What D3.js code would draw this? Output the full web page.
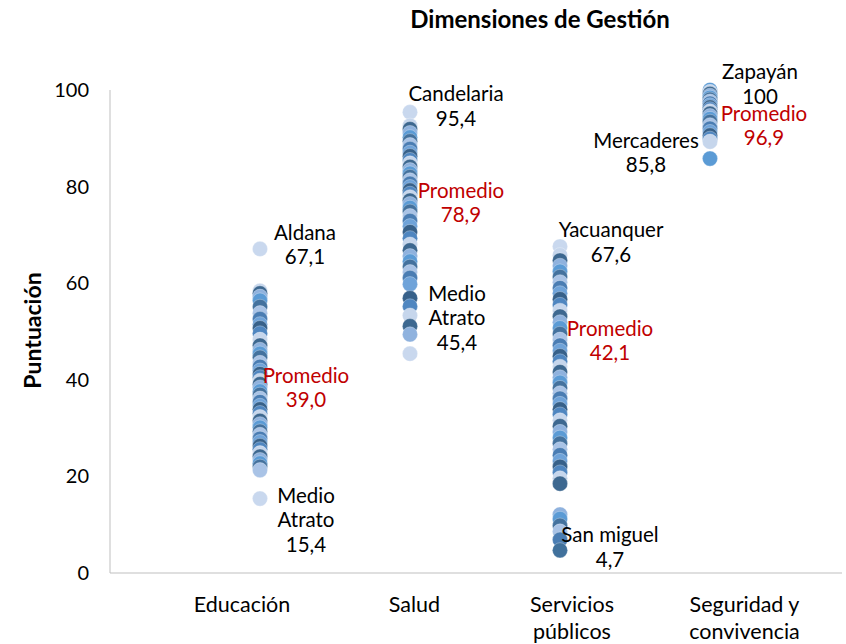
<!DOCTYPE html>
<html>
<head>
<meta charset="utf-8">
<script src="https://cdn.jsdelivr.net/npm/d3@7"></script>
<style>
  body { margin: 0; background: #fff; }
  svg text { font-family: Lato, "Open Sans", sans-serif; }
</style>
</head>
<body>
<svg id="chart" width="846" height="644"></svg>
<script>
// ---------- DATA ----------
const categories = ['Educación', 'Salud', 'Servicios públicos', 'Seguridad y convivencia'];
const categoryLines = [['Educación'], ['Salud'], ['Servicios', 'públicos'], ['Seguridad y', 'convivencia']];
const yTicks = [0, 20, 40, 60, 80, 100];

const educacion = [
  67.1, 58.4, 57.9, 57.2, 56.4, 55.1, 53.8, 52.6, 51.5, 50.7, 49.6, 48.3, 47.1, 46.2,
  45.4, 44.6, 43.5, 42.7, 41.9, 41.2, 40.5, 39.8, 39.1, 38.4, 37.6, 36.9, 36.1, 35.4,
  34.6, 33.9, 33.1, 32.3, 31.5, 30.8, 30.1, 29.3, 28.6, 27.8, 27.1, 26.3, 25.6, 24.8,
  24.1, 23.4, 22.7, 22.0, 21.3, 15.4
];
const salud = [
  95.4, 92.6, 91.9, 91.1, 90.2, 89.4, 88.6, 87.8, 87.0, 86.3, 85.5, 84.8, 84.1, 83.4,
  82.7, 82.0, 81.3, 80.6, 79.9, 79.2, 78.5, 77.8, 77.1, 76.4, 75.6, 74.8, 73.9, 72.9,
  71.8, 70.6, 69.3, 68.0, 66.8, 65.6, 64.5, 63.4, 62.3, 61.1, 59.8, 56.9, 55.2, 53.3,
  51.1, 49.4, 45.4
];
const servicios = [
  67.6, 65.8, 64.7, 63.6, 62.4, 61.3, 60.2, 59.0, 57.9, 56.7, 55.5, 54.3, 53.1, 51.9,
  50.7, 49.5, 48.3, 47.1, 46.0, 44.9, 43.8, 42.7, 41.6, 40.5, 39.4, 38.3, 37.2, 36.1,
  35.0, 33.9, 32.8, 31.6, 30.4, 29.2, 28.0, 26.8, 25.6, 24.4, 23.2, 22.0, 20.8, 19.6,
  18.5, 12.1, 11.2, 9.8, 8.6, 6.9, 4.7
];
const seguridad = [
  100, 99.6, 99.2, 98.8, 98.4, 98.0, 97.6, 97.2, 96.8, 96.4, 96.0, 95.6, 95.1, 94.6,
  94.0, 93.4, 92.7, 92.0, 91.3, 90.6, 89.9, 89.3, 85.8
];
const seriesValues = [educacion, salud, servicios, seguridad];

const promedios = [39.0, 78.9, 42.1, 96.9];

// extreme point labels: category index, value, text lines
const extremeCats = [0, 0, 1, 1, 2, 2, 3, 3];
const extremeValues = [67.1, 15.4, 95.4, 45.4, 67.6, 4.7, 100, 85.8];
const extremeNames = [['Aldana'], ['Medio', 'Atrato'], ['Candelaria'], ['Medio', 'Atrato'],
  ['Yacuanquer'], ['San miguel'], ['Zapayán'], ['Mercaderes']];

// ---------- LAYOUT ----------
const svg = d3.select('#chart');
const margin = { top: 90, right: 4, bottom: 71, left: 110 };
const width = +svg.attr('width');
const height = +svg.attr('height');

const x = d3.scaleLinear().domain([0, 4.88]).range([margin.left, width - margin.right]);
const y = d3.scaleLinear().domain([0, 100]).range([height - margin.bottom, margin.top]);

// label offsets (px) from each labelled point: [dx, dy of first line]
const extremeOffsets = [[45, -14], [46, -1], [46, -16], [47, -58], [51, -14], [50, -13], [50, -16], [-64, -16]];
const promedioOffsets = [[46, -7], [51, 1], [50, -39], [54, 11]];

const fmt = (v) => (v === 100 ? '100' : d3.format('.1f')(v).replace('.', ','));

// axes lines
svg.append('line')
  .attr('x1', x(0)).attr('x2', x(0))
  .attr('y1', y(100)).attr('y2', y(0))
  .attr('stroke', '#bfbfbf').attr('stroke-width', 1);
svg.append('line')
  .attr('x1', x(0)).attr('x2', x(4.88))
  .attr('y1', y(0)).attr('y2', y(0))
  .attr('stroke', '#bfbfbf').attr('stroke-width', 1);

// y tick labels
svg.selectAll('text.ytick')
  .data(yTicks)
  .join('text')
  .attr('class', 'ytick')
  .attr('x', x(0) - 21)
  .attr('y', (d) => y(d))
  .attr('dy', '0.35em')
  .attr('text-anchor', 'end')
  .attr('font-size', 20)
  .attr('fill', '#000')
  .text((d) => d);

// category labels
const catLabelShift = [-0.12, 0.03, 0.08, 0.23];
categoryLines.forEach((lines, i) => {
  const t = svg.append('text')
    .attr('x', x(i + 1 + catLabelShift[i]))
    .attr('y', 612)
    .attr('text-anchor', 'middle')
    .attr('font-size', 21.5);
  lines.forEach((l, j) => t.append('tspan').attr('x', x(i + 1 + catLabelShift[i])).attr('dy', j ? 27 : 0).text(l));
});

// points
const palette = ['#4f86c0', '#c6d6ec', '#3d6890', '#8fb2de', '#5b9bd5', '#44729e', '#a9c3e6', '#4a7db3', '#6fa3d9', '#37618a'];
const color = d3.scaleOrdinal().domain(d3.range(palette.length)).range(palette);
const endColors = [['#c9d8ee', '#c9d8ee'], ['#c9d8ee', '#c9d8ee'], ['#c9d8ee', '#41719c'], ['#5b9bd5', '#5b9bd5']];

seriesValues.forEach((vals, i) => {
  svg.append('g')
    .selectAll('circle')
    .data(vals)
    .join('circle')
    .attr('cx', x(i + 1))
    .attr('cy', (d) => y(d))
    .attr('r', 7.6)
    .attr('fill', (d, k) => k === 0 ? endColors[i][0] : k === vals.length - 1 ? endColors[i][1] : color(k % palette.length))
    .attr('stroke', '#ffffff')
    .attr('stroke-opacity', 0.5)
    .attr('stroke-width', 0.6);
});

// extreme labels
extremeValues.forEach((v, i) => {
  const cx = x(extremeCats[i] + 1) + extremeOffsets[i][0];
  const t = svg.append('text')
    .attr('x', cx)
    .attr('y', y(v) + extremeOffsets[i][1])
    .attr('text-anchor', 'middle')
    .attr('dominant-baseline', 'middle')
    .attr('font-size', 20.5)
    .attr('fill', '#000');
  extremeNames[i].concat([fmt(v)]).forEach((l, j) => t.append('tspan').attr('x', cx).attr('dy', j ? 24.5 : 0).text(l));
});

// promedio labels
promedios.forEach((v, i) => {
  const cx = x(i + 1) + promedioOffsets[i][0];
  const t = svg.append('text')
    .attr('x', cx)
    .attr('y', y(v) + promedioOffsets[i][1])
    .attr('text-anchor', 'middle')
    .attr('dominant-baseline', 'middle')
    .attr('font-size', 20.5)
    .attr('fill', '#c00000');
  ['Promedio', fmt(v)].forEach((l, j) => t.append('tspan').attr('x', cx).attr('dy', j ? 24.5 : 0).text(l));
});

// title
svg.append('text')
  .attr('x', 540).attr('y', 28)
  .attr('text-anchor', 'middle')
  .attr('font-size', 24)
  .attr('font-weight', 'bold')
  .text('Dimensiones de Gestión');

// y axis title
svg.append('text')
  .attr('transform', `translate(41,${(y(0) + y(100)) / 2 - 1}) rotate(-90)`)
  .attr('text-anchor', 'middle')
  .attr('font-size', 23)
  .attr('font-weight', 'bold')
  .text('Puntuación');
</script>
</body>
</html>
